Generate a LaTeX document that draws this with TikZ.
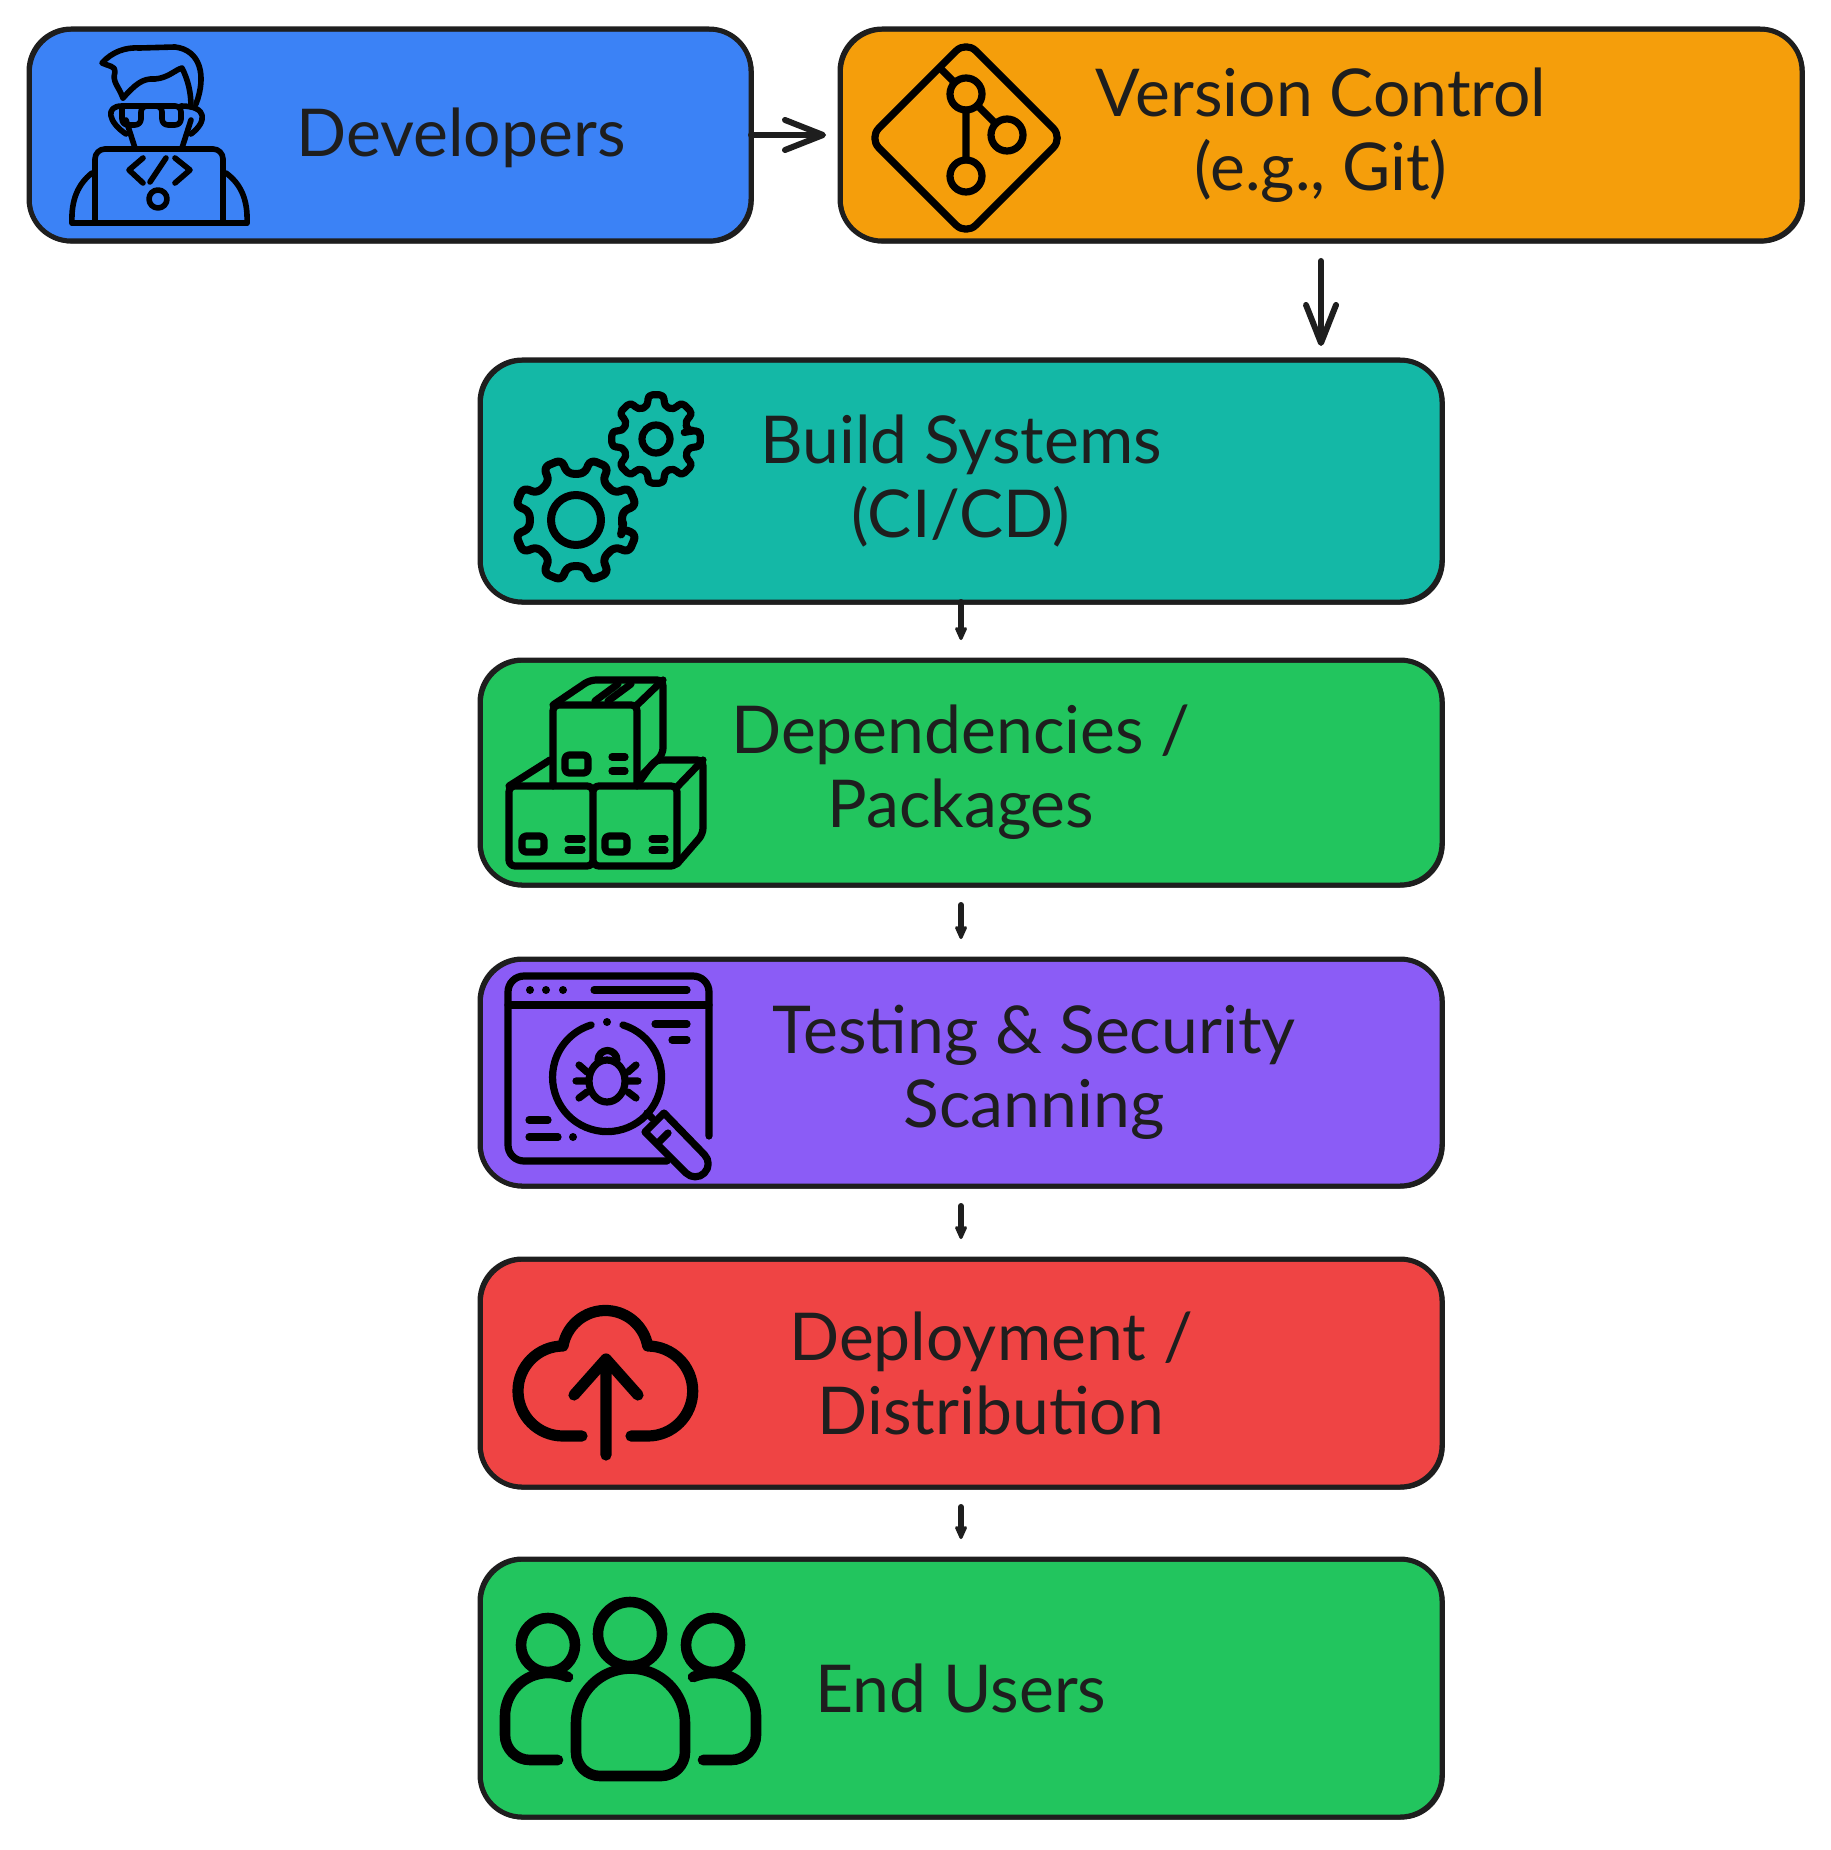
\documentclass[tikz,border=0pt]{standalone}
\usepackage{fontspec}
\setmainfont{Lato}
\usetikzlibrary{arrows.meta,positioning}
\definecolor{inkdark}{RGB}{30,30,30}
\definecolor{devblue}{HTML}{3B82F6}
\definecolor{gitorange}{HTML}{F59E0B}
\definecolor{buildteal}{HTML}{14B8A6}
\definecolor{pkggreen}{HTML}{22C55E}
\definecolor{testpurple}{HTML}{8B5CF6}
\definecolor{deployred}{HTML}{EF4444}

\begin{document}
\begin{tikzpicture}[x=0.5pt,y=-0.5pt,>={Stealth[length=9pt,width=8pt,round]}]
\tikzstyle{box}=[draw=inkdark,line width=2.5pt,rounded corners=21pt,outer sep=0pt,inner sep=0pt,minimum width=481pt,postaction={draw=inkdark,line width=1.4pt,transform canvas={xshift=.7pt,yshift=-.6pt}}]
\tikzstyle{txt}=[align=center,text=inkdark,font=\fontsize{33}{37}\selectfont]
\tikzstyle{flow}=[->,draw=inkdark,line width=3pt,line cap=round]
\tikzstyle{bigflow}=[draw=inkdark,line width=3pt,line cap=round,-{Straight Barb[length=19pt,width=15pt,round]}]
\tikzstyle{icon}=[draw=black,line width=3.6pt,line cap=round,line join=round]
\tikzstyle{devicon}=[icon,line width=2.8pt]
\useasboundingbox (0,0) rectangle (1830,1850);
% boxes
\node[box,fill=devblue,minimum width=361pt,minimum height=106pt] (dev) at (390,135) {};
\node[box,fill=gitorange,minimum height=106pt,right=44.5pt of dev] (git) {};
\node[box,fill=buildteal,minimum height=121pt] (build) at (961,481) {};
\node[box,fill=pkggreen,minimum height=112.5pt,below=29pt of build] (pkg) {};
\node[box,fill=testpurple,minimum height=113.5pt,below=37pt of pkg] (test) {};
\node[box,fill=deployred,minimum height=114pt,below=36.5pt of test] (deploy) {};
\node[box,fill=pkggreen,minimum height=129pt,below=36pt of deploy] (users) {};
% labels
\node[txt] (devtxt) at (461,138) {Developers};
\node[txt] (gittxt) at (git.center) {Version Control\\(e.g., Git)};
\node[txt] (buildtxt) at (build.center) {Build Systems\\(CI/CD)};
\node[txt] (pkgtxt) at (pkg.center) {Dependencies /\\Packages};
\node[txt] (testtxt) at (1034,1072) {Testing \& Security\\Scanning};
\node[txt] (deploytxt) at (991,1373) {Deployment /\\Distribution};
\node[txt] (userstxt) at (users.center) {End Users};
% arrows
\draw[bigflow,shorten >=7pt] (dev) -- (git);
\draw[bigflow,shorten <=10pt,shorten >=7pt] (git.south) -- (build.north -| git.south);
\draw[flow,shorten >=10pt] (build) -- (pkg);
\draw[flow,shorten <=10pt,shorten >=10pt] (pkg) -- (test);
\draw[flow,shorten <=10pt,shorten >=10pt] (test) -- (deploy);
\draw[flow,shorten <=10pt,shorten >=10pt] (deploy) -- (users);
% developer icon
\draw[devicon,rounded corners=5pt] (95,223) -- (95,149) -- (223,149) -- (223,223);
\draw[devicon] (72,223) -- (247,223);
\draw[devicon] (72,223) .. controls (71,200) and (78,184) .. (92,173);
\draw[devicon] (247,223) .. controls (248,200) and (241,184) .. (226,173);
\draw[devicon] (143,158) -- (129,170) -- (143,183) (166,158) -- (150,182) (175,158) -- (190,170) -- (175,183);
\draw[devicon] (158,199) circle (9);
\draw[devicon] (135,148) -- (126,120) (182,148) -- (191,120);
\draw[devicon] (123,98) .. controls (118,85) and (112,82) .. (115,72) .. controls (116,66) and (108,66) .. (102,63) .. controls (112,52) and (125,47) .. (140,48) -- (175,47) .. controls (200,50) and (207,75) .. (196,104);
\draw[devicon] (123,98) .. controls (135,85) and (142,78) .. (155,79) .. controls (168,78) and (175,70) .. (182,68) .. controls (188,80) and (191,92) .. (191,107);
\draw[devicon,rounded corners=3pt] (122,106) -- (122,125) -- (141,125) -- (141,106) -- (162,106) -- (162,125) -- (181,125) -- (181,106) -- (122,106);
\draw[devicon] (122,106) .. controls (105,106) and (108,122) .. (126,134) (181,106) .. controls (208,106) and (207,122) .. (191,134);
% git icon
\draw[icon,rounded corners=7pt] (966,41) -- (1063,138) -- (966,235) -- (869,138) -- cycle;
\draw[icon] (966,94) circle (16) (1007,135) circle (16) (966,176) circle (16);
\draw[icon] (966,110) -- (966,160) (940,68) -- (954,82) (978,106) -- (995,123);
% gear icons
\begin{scope}[shift={(576,520)},line width=4pt]
\draw[icon,line width=4pt,rounded corners=3pt] (11:47) \foreach \a in {22.5,67.5,...,337.5} { -- (\a-12:47) -- (\a-9:62) -- (\a+9:62) -- (\a+12:47) } -- cycle;
\draw[icon,line width=4pt] (0,0) circle (25);
\end{scope}
\begin{scope}[shift={(656,439)}]
\draw[icon,rounded corners=2.5pt] (-13:33) \foreach \a in {0,45,...,315} { -- (\a-13:34) -- (\a-11:45) -- (\a+11:45) -- (\a+13:34) } -- cycle;
\draw[icon] (0,0) circle (14);
\end{scope}
% package icon
\draw[icon,rounded corners=3pt] (553,786) -- (553,705) -- (637,705) -- (637,786);
\draw[icon,rounded corners=3pt] (553,705) -- (590,680) -- (663,680) -- (663,754) -- (638,779);
\draw[icon] (637,705) -- (663,680) (595,701) -- (618,684) (608,701) -- (631,684);
\draw[icon,rounded corners=3pt] (509,786) rectangle (593,866) (593,786) rectangle (677,866);
\draw[icon,rounded corners=3pt] (509,786) -- (550,760) (640,781) -- (655,760) -- (703,760) -- (703,834) -- (677,864);
\draw[icon] (677,787) -- (703,760);
\draw[icon,rounded corners=2pt] (565,755) rectangle (588,773) (522,836) rectangle (544,852) (605,836) rectangle (627,852);
\draw[icon] (612,757) -- (625,757) (612,771) -- (625,771) (568,839) -- (582,839) (568,850) -- (582,850) (652,839) -- (665,839) (652,850) -- (665,850);
% bug icon
\draw[icon,rounded corners=8pt] (709,1136) -- (709,976) -- (508,976) -- (508,1161) -- (667,1161);
\draw[icon] (508,1005) -- (709,1005) (594,990) -- (687,990) (655,1024) -- (687,1024) (672,1040) -- (687,1040);
\fill (530,990) circle (4) (546,990) circle (4) (563,990) circle (4) (607,1022) circle (4) (573,1137) circle (4);
\draw[icon] (623,1025) arc (-73:253:54.5);
\draw[icon] (607,1081) ellipse (18 and 21);
\draw[icon] (598,1060) arc (180:360:9.5);
\draw[icon] (579,1065) -- (587,1072) (576,1081) -- (588,1081) (579,1098) -- (587,1092) (636,1065) -- (628,1072) (638,1081) -- (626,1081) (636,1098) -- (628,1092);
\draw[icon] (647,1113) -- (652,1118) (668,1133) -- (658,1143);
\draw[icon] (664,1113) -- (645,1132) -- (686,1173) arc (135:-45:13) -- cycle;
\draw[icon] (529,1120) -- (548,1120) (529,1137) -- (558,1137);
% cloud icon
\draw[icon,line width=5.6pt] (582,1436) -- (563,1436) arc (90:270:45) arc (190:350:43) arc (270:450:45) -- (631,1436);
\draw[icon,line width=5.6pt] (606,1455) -- (606,1359) (574,1395) -- (606,1359) -- (638,1395);
% users icon
\draw[icon,line width=5.3pt] (630,1634) circle (32) (548,1645) circle (27) (713,1645) circle (27);
\draw[icon,line width=5.3pt] (576,1723) arc (180:360:54.5) -- (685,1752) arc (0:90:24) -- (600,1776) arc (90:180:24) -- cycle;
\draw[icon,line width=5.3pt] (568,1677) .. controls (562,1675) and (556,1673) .. (548,1673) arc (270:180:43) -- (505,1735) arc (180:90:25) -- (558,1760);
\draw[icon,line width=5.3pt] (693,1677) .. controls (699,1675) and (705,1673) .. (713,1673) arc (270:360:43) -- (756,1735) arc (0:90:25) -- (703,1760);
\end{tikzpicture}
\end{document}
